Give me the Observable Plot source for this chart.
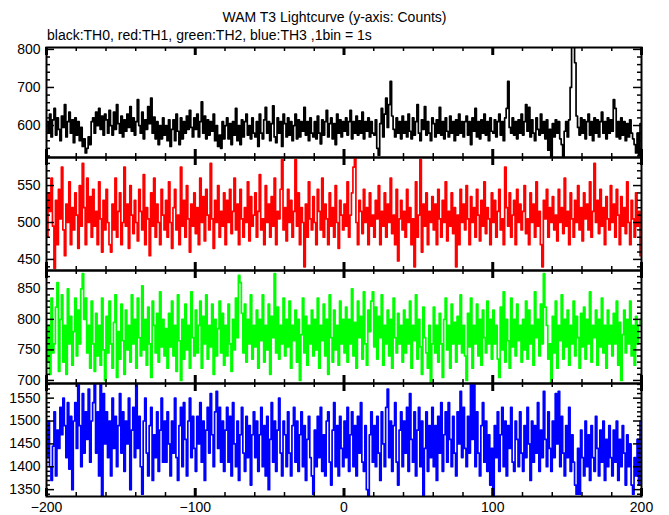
<!DOCTYPE html>
<html><head><meta charset="utf-8">
<script src="https://cdn.jsdelivr.net/npm/d3@7"></script>
<script src="https://cdn.jsdelivr.net/npm/@observablehq/plot@0.6"></script>
<style>
body{margin:0;background:#fff;}
#chart{position:relative;width:669px;height:515px;font-family:"Liberation Sans",Arial,sans-serif;color:#000;}
#title{position:absolute;left:0;width:669px;top:9px;text-align:center;font-size:14px;}
#subtitle{position:absolute;left:47px;top:27px;font-size:14px;}
.panel{position:absolute;left:0;overflow:visible;}
</style></head><body>
<div id="chart"><div id="title">WAM T3 Lightcurve (y-axis: Counts)</div><div id="subtitle">black:TH0, red:TH1, green:TH2, blue:TH3 ,1bin = 1s</div></div>
<script>
const startTime = -200;
const xDomain = [-200, 200];
const xMajorTicks = [-200, -100, 0, 100, 200];
const xMinorTicks = [-180,-160,-140,-120,-80,-60,-40,-20,20,40,60,80,120,140,160,180];

const th0 = [
610,580,630,570,615,645,575,620,590,560,625,595,655,570,610,635,580,615,555,620,
575,610,560,595,545,565,528,540,570,550,610,620,580,635,600,645,590,625,575,630,
615,580,640,600,575,635,590,655,605,580,625,570,615,585,630,595,650,585,620,575,
610,668,600,580,635,565,615,590,650,605,672,580,622,565,610,550,600,565,620,575,
600,560,615,545,590,615,560,630,585,550,620,565,610,580,625,590,640,595,570,620,
590,630,570,610,662,580,625,565,615,575,610,585,630,560,600,545,575,540,610,565,
600,620,565,605,550,610,575,645,560,600,550,615,570,610,630,575,600,565,620,580,
570,610,545,630,580,565,615,648,580,610,560,605,652,570,555,620,580,610,545,630,
605,570,620,575,610,560,600,630,565,615,570,610,585,648,575,610,560,620,580,570,
610,565,625,580,552,615,575,610,640,570,605,620,565,605,550,630,580,615,570,610,
585,620,575,610,640,565,610,580,625,575,612,580,635,565,610,585,620,570,610,580,
575,615,540,522,605,645,570,630,672,595,655,716,625,590,570,620,580,610,565,625,
580,610,570,630,585,565,620,575,610,655,580,560,615,590,650,575,610,580,560,620,
605,570,615,580,648,575,610,565,620,585,570,625,580,610,560,615,575,630,580,610,
570,610,625,575,610,550,620,585,645,570,610,565,615,580,630,575,610,560,620,585,
580,615,570,610,630,575,610,560,620,645,716,595,580,620,575,610,565,615,580,630,
575,610,655,585,648,570,615,580,560,620,590,575,630,580,610,565,615,535,590,518,
605,570,615,580,610,565,550,518,585,610,570,615,700,830,815,765,625,595,575,620,
580,615,565,610,630,575,610,560,620,580,615,570,610,635,580,610,565,620,580,615,
585,668,645,570,610,565,620,575,610,560,605,570,615,580,565,550,528,580,522,605
];
const th1 = [
480,540,515,560,495,438,530,470,545,505,575,490,455,525,500,555,470,520,490,540,
510,465,550,495,580,520,470,560,500,535,480,545,495,515,470,555,505,460,530,490,
545,500,470,460,525,490,560,480,515,540,470,500,575,495,525,465,550,510,485,530,
500,475,545,515,490,565,470,520,505,455,540,495,560,480,525,500,470,545,510,490,
530,480,555,500,465,520,545,490,510,470,575,495,530,480,550,505,460,525,495,540,
485,520,470,560,500,535,475,545,510,490,580,505,465,530,500,550,480,515,495,540,
470,530,500,545,485,515,560,490,525,470,545,505,480,520,500,555,475,535,495,510,
540,480,515,565,490,505,470,550,500,525,480,535,495,560,470,515,505,545,585,490,
520,475,545,500,530,480,515,585,495,540,470,520,500,440,525,480,555,505,490,535,
500,470,545,515,490,560,480,525,505,470,540,495,520,480,550,500,465,530,510,490,
525,495,555,480,510,540,575,588,500,470,530,515,485,545,500,520,470,540,495,510,
480,530,505,550,470,515,495,540,480,525,500,560,485,510,470,545,448,505,530,490,
515,480,545,500,520,470,505,440,555,480,510,585,460,525,495,540,470,515,500,535,
490,525,470,545,505,480,530,500,555,475,515,495,540,485,520,440,510,470,545,500,
525,490,550,505,470,535,500,520,480,545,510,475,530,495,555,485,520,505,470,540,
500,530,480,515,545,490,505,470,575,520,495,540,480,510,530,470,545,500,525,490,
515,550,485,505,470,540,500,525,480,555,495,515,470,440,530,505,545,480,520,500,
535,490,510,475,545,500,520,485,560,495,515,470,540,505,480,530,500,550,490,520,
475,540,505,525,490,555,480,515,580,500,530,485,545,495,520,470,535,505,490,550,
500,525,480,545,510,470,535,495,520,485,555,500,470,530,505,480,540,495,515,455
];
const th2 = [
730,790,710,835,745,760,820,860,715,800,840,730,790,710,850,760,805,725,780,835,
740,815,760,850,875,800,835,745,790,720,830,760,715,810,740,790,725,835,750,700,
805,745,830,760,720,795,840,705,780,735,825,765,710,815,750,790,730,840,760,800,
720,835,770,740,855,750,800,725,820,760,705,830,790,745,810,730,845,755,800,740,
785,720,810,755,830,740,790,715,840,765,700,800,735,825,750,790,720,845,770,740,
815,745,790,830,720,805,760,840,735,790,755,825,710,800,740,785,830,745,810,725,
790,740,825,760,715,800,750,835,770,872,860,810,745,825,730,800,760,840,735,790,
755,815,720,800,765,840,730,790,750,825,710,805,770,875,745,820,735,790,760,835,
740,800,755,830,720,790,765,815,730,800,700,775,835,745,805,725,790,760,815,740,
800,750,835,720,790,765,825,740,800,710,840,770,730,815,750,790,725,830,760,800,
745,820,730,800,760,850,740,795,720,830,770,805,735,845,760,725,815,780,830,845,
755,820,735,805,770,840,725,790,760,815,740,800,720,835,770,745,810,760,790,730,
815,745,800,760,830,720,790,765,840,735,800,755,710,820,770,745,720,790,695,760,
820,745,790,730,810,760,705,800,835,750,790,720,825,760,795,730,805,760,840,745,
790,740,700,810,755,835,720,790,760,825,740,800,725,815,770,745,830,760,800,735,
815,760,790,735,705,820,750,845,730,800,765,720,835,755,800,740,825,765,790,730,
800,750,830,735,815,760,790,725,845,770,800,740,825,760,875,820,790,735,760,695,
805,745,830,720,790,765,840,735,800,755,815,725,790,760,830,740,805,770,720,810,
755,820,735,800,760,845,730,790,770,815,725,800,755,835,745,790,720,815,760,790,
740,810,760,830,725,795,700,775,815,745,800,760,830,740,790,725,805,760,790,800
];
const th3 = [
1420,1500,1400,1370,1445,1520,1380,1480,1440,1530,1470,1550,1490,1420,1540,1395,1510,1350,1500,1540,
1440,1582,1490,1400,1560,1430,1520,1460,1570,1410,1500,1540,1582,1430,1520,1380,1582,1335,1560,1450,
1520,1420,1500,1380,1550,1440,1510,1400,1490,1560,1430,1520,1390,1500,1450,1550,1350,1480,1530,1420,
1582,1440,1510,1400,1340,1500,1550,1430,1380,1490,1530,1370,1470,1420,1520,1390,1480,1550,1410,1500,
1410,1520,1450,1380,1500,1430,1550,1420,1370,1490,1530,1400,1540,1460,1380,1500,1550,1420,1510,1440,
1390,1510,1450,1540,1410,1500,1370,1480,1530,1430,1560,1470,1400,1520,1565,1440,1530,1410,1500,1390,
1480,1530,1410,1510,1380,1540,1450,1400,1500,1370,1470,1530,1430,1390,1510,1420,1490,1360,1470,1520,
1420,1500,1390,1470,1530,1400,1490,1380,1510,1350,1460,1540,1410,1500,1390,1480,1550,1430,1380,1500,
1470,1400,1520,1430,1380,1490,1530,1410,1500,1390,1470,1520,1400,1490,1370,1460,1510,1420,1380,1340,
1480,1400,1510,1420,1530,1390,1470,1380,1500,1520,1410,1360,1480,1540,1400,1490,1380,1510,1440,1400,
1500,1420,1530,1390,1470,1520,1400,1490,1380,1510,1430,1540,1410,1390,1490,1350,1335,1470,1520,1410,
1490,1400,1510,1430,1370,1520,1450,1400,1530,1570,1420,1500,1390,1490,1540,1410,1360,1480,1520,1400,
1500,1430,1530,1390,1560,1460,1410,1520,1380,1480,1530,1400,1500,1335,1440,1520,1390,1490,1420,1530,
1400,1490,1370,1510,1430,1540,1390,1470,1520,1410,1540,1460,1400,1510,1430,1380,1520,1450,1565,1420,
1530,1440,1400,1510,1430,1582,1460,1582,1400,1520,1430,1380,1490,1540,1410,1500,1390,1470,1360,1440,
1335,1490,1420,1520,1390,1470,1530,1400,1500,1380,1490,1440,1530,1410,1390,1500,1460,1400,1520,1430,
1390,1490,1420,1530,1450,1370,1500,1410,1490,1430,1540,1390,1480,1420,1565,1460,1400,1520,1440,1390,
1500,1420,1560,1450,1565,1400,1510,1430,1380,1490,1420,1530,1390,1470,1410,1360,1340,1440,1340,1480,
1420,1380,1500,1400,1470,1370,1490,1420,1390,1510,1440,1380,1480,1410,1500,1370,1460,1400,1490,1420,
1380,1480,1410,1500,1370,1460,1400,1490,1430,1360,1470,1400,1450,1360,1340,1420,1380,1460,1360,1500
];

const panels = [
  {values: th0, color: "#000000", domain: [516, 805], major: [600, 700, 800], minor: [520,540,560,580,620,640,660,680,720,740,760,780], top: 47, height: 110},
  {values: th1, color: "#ff0000", domain: [435, 588], major: [450, 500, 550], minor: [440,460,470,480,490,510,520,530,540,560,570,580], top: 157, height: 113},
  {values: th2, color: "#00ff00", domain: [695, 880], major: [700, 750, 800, 850], minor: [710,720,730,740,760,770,780,790,810,820,830,840,860,870], top: 270, height: 113},
  {values: th3, color: "#0000ff", domain: [1335, 1582], major: [1350, 1400, 1450, 1500, 1550], minor: [1340,1360,1370,1380,1390,1410,1420,1430,1440,1460,1470,1480,1490,1510,1520,1530,1540,1560,1570,1580], top: 383, height: 113}
];

const W = 669, ML = 46, MR = 28, PAD = 8;
const fmt = d => d < 0 ? "\u2212" + Math.abs(d) : String(d);
const chart = document.getElementById("chart");

panels.forEach((p, k) => {
  const last = k === panels.length - 1;
  const ph = p.height, pw = W - ML - MR;
  const data = p.values.map((v, i) => ({t: startTime + i, v}));
  data.push({t: startTime + p.values.length, v: p.values[p.values.length - 1]});
  const majL = 8, minL = 4;
  const marks = [
    Plot.line(data, {x: "t", y: "v", stroke: p.color, strokeWidth: 1.7, curve: "step-after", clip: true}),
    Plot.ruleX(xMajorTicks, {x: d => d, insetBottom: ph - majL, strokeWidth: 3}),
    Plot.ruleX(xMajorTicks, {x: d => d, insetTop: ph - majL, strokeWidth: 3}),
    Plot.ruleX(xMinorTicks, {x: d => d, insetBottom: ph - minL, strokeWidth: 1.5}),
    Plot.ruleX(xMinorTicks, {x: d => d, insetTop: ph - minL, strokeWidth: 1.5}),
    Plot.ruleY(p.major, {y: d => d, insetRight: pw - majL, strokeWidth: 1.5}),
    Plot.ruleY(p.major, {y: d => d, insetLeft: pw - majL, strokeWidth: 1.5}),
    Plot.ruleY(p.minor, {y: d => d, insetRight: pw - minL, strokeWidth: 1.5}),
    Plot.ruleY(p.minor, {y: d => d, insetLeft: pw - minL, strokeWidth: 1.5}),
    Plot.frame({stroke: "#000", strokeWidth: 2}),
    Plot.axisY({ticks: p.major, tickSize: 0, tickPadding: 6, tickFormat: fmt, label: null, fontSize: 14})
  ];
  if (last) marks.push(Plot.axisX({ticks: xMajorTicks, tickSize: 0, tickPadding: 6, tickFormat: fmt, label: null, fontSize: 14}));
  const svg = Plot.plot({
    width: W,
    height: ph + PAD + (last ? 24 : PAD),
    marginLeft: ML, marginRight: MR, marginTop: PAD, marginBottom: last ? 24 : PAD,
    style: {fontFamily: '"Liberation Sans", Arial, sans-serif', fontSize: "14px", color: "#000", background: "transparent", overflow: "visible"},
    x: {domain: xDomain, axis: last ? undefined : null},
    y: {domain: p.domain},
    marks
  });
  svg.classList.add("panel");
  svg.style.top = (p.top - PAD) + "px";
  svg.style.position = "absolute";
  chart.appendChild(svg);
});
</script>
</body></html>
